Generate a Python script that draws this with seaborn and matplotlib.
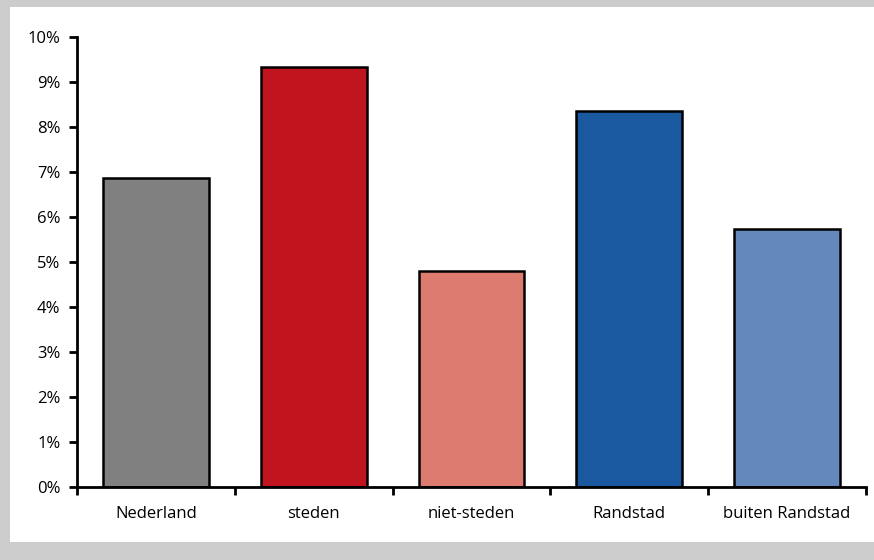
import matplotlib
matplotlib.use("Agg")
import matplotlib.pyplot as plt
import matplotlib.ticker as mticker
from matplotlib.patches import Rectangle
import seaborn as sns
import pandas as pd

categories = ["Nederland", "steden", "niet-steden", "Randstad", "buiten Randstad"]
values = [0.0687, 0.0934, 0.0480, 0.0836, 0.0573]
colors = ["#808080", "#C0141E", "#DE7B70", "#1A58A0", "#6389BC"]

sns.set_theme(style="white")
plt.rcParams["font.family"] = ["Open Sans", "DejaVu Sans"]

df = pd.DataFrame({"regio": categories, "aandeel": values})

fig = plt.figure(figsize=(8.74, 5.6), dpi=100)
fig.patch.set_facecolor("white")

# grey frame around the chart
for x, y, w, h in [(0, 0.9875, 1, 0.0125), (0, 0, 0.0115, 1), (0, 0, 1, 0.032)]:
    fig.patches.append(Rectangle((x, y), w, h, transform=fig.transFigure,
                                 facecolor="#CCCCCC", edgecolor="none", zorder=0))

ax = fig.add_axes([0.0881, 0.1304, 0.9027, 0.8035])
sns.barplot(data=df, x="regio", y="aandeel", hue="regio", palette=colors,
            legend=False, width=0.67, edgecolor="black", linewidth=1.8,
            saturation=1, ax=ax)

ax.set_ylim(0, 0.10)
ax.set_xlim(-0.5, len(categories) - 0.5)
ax.yaxis.set_major_locator(mticker.MultipleLocator(0.01))
ax.yaxis.set_major_formatter(mticker.PercentFormatter(1.0, decimals=0))
ax.set_xticks(range(len(categories)))
ax.set_xticklabels(categories)
ax.set_xticks([i + 0.5 for i in range(-1, len(categories))], minor=True)
ax.set_xlabel("")
ax.set_ylabel("")

for side in ["top", "right"]:
    ax.spines[side].set_visible(False)
for side in ["left", "bottom"]:
    ax.spines[side].set_linewidth(2)
    ax.spines[side].set_color("black")

ax.tick_params(axis="y", which="major", direction="out", length=6, width=2,
               left=True, colors="black", labelsize=12, pad=6)
ax.tick_params(axis="x", which="major", length=0, labelsize=12, pad=14,
               colors="black")
ax.tick_params(axis="x", which="minor", direction="out", length=6, width=2,
               bottom=True, colors="black")
ax.set_facecolor("white")

fig.savefig("out.png", dpi=100)
